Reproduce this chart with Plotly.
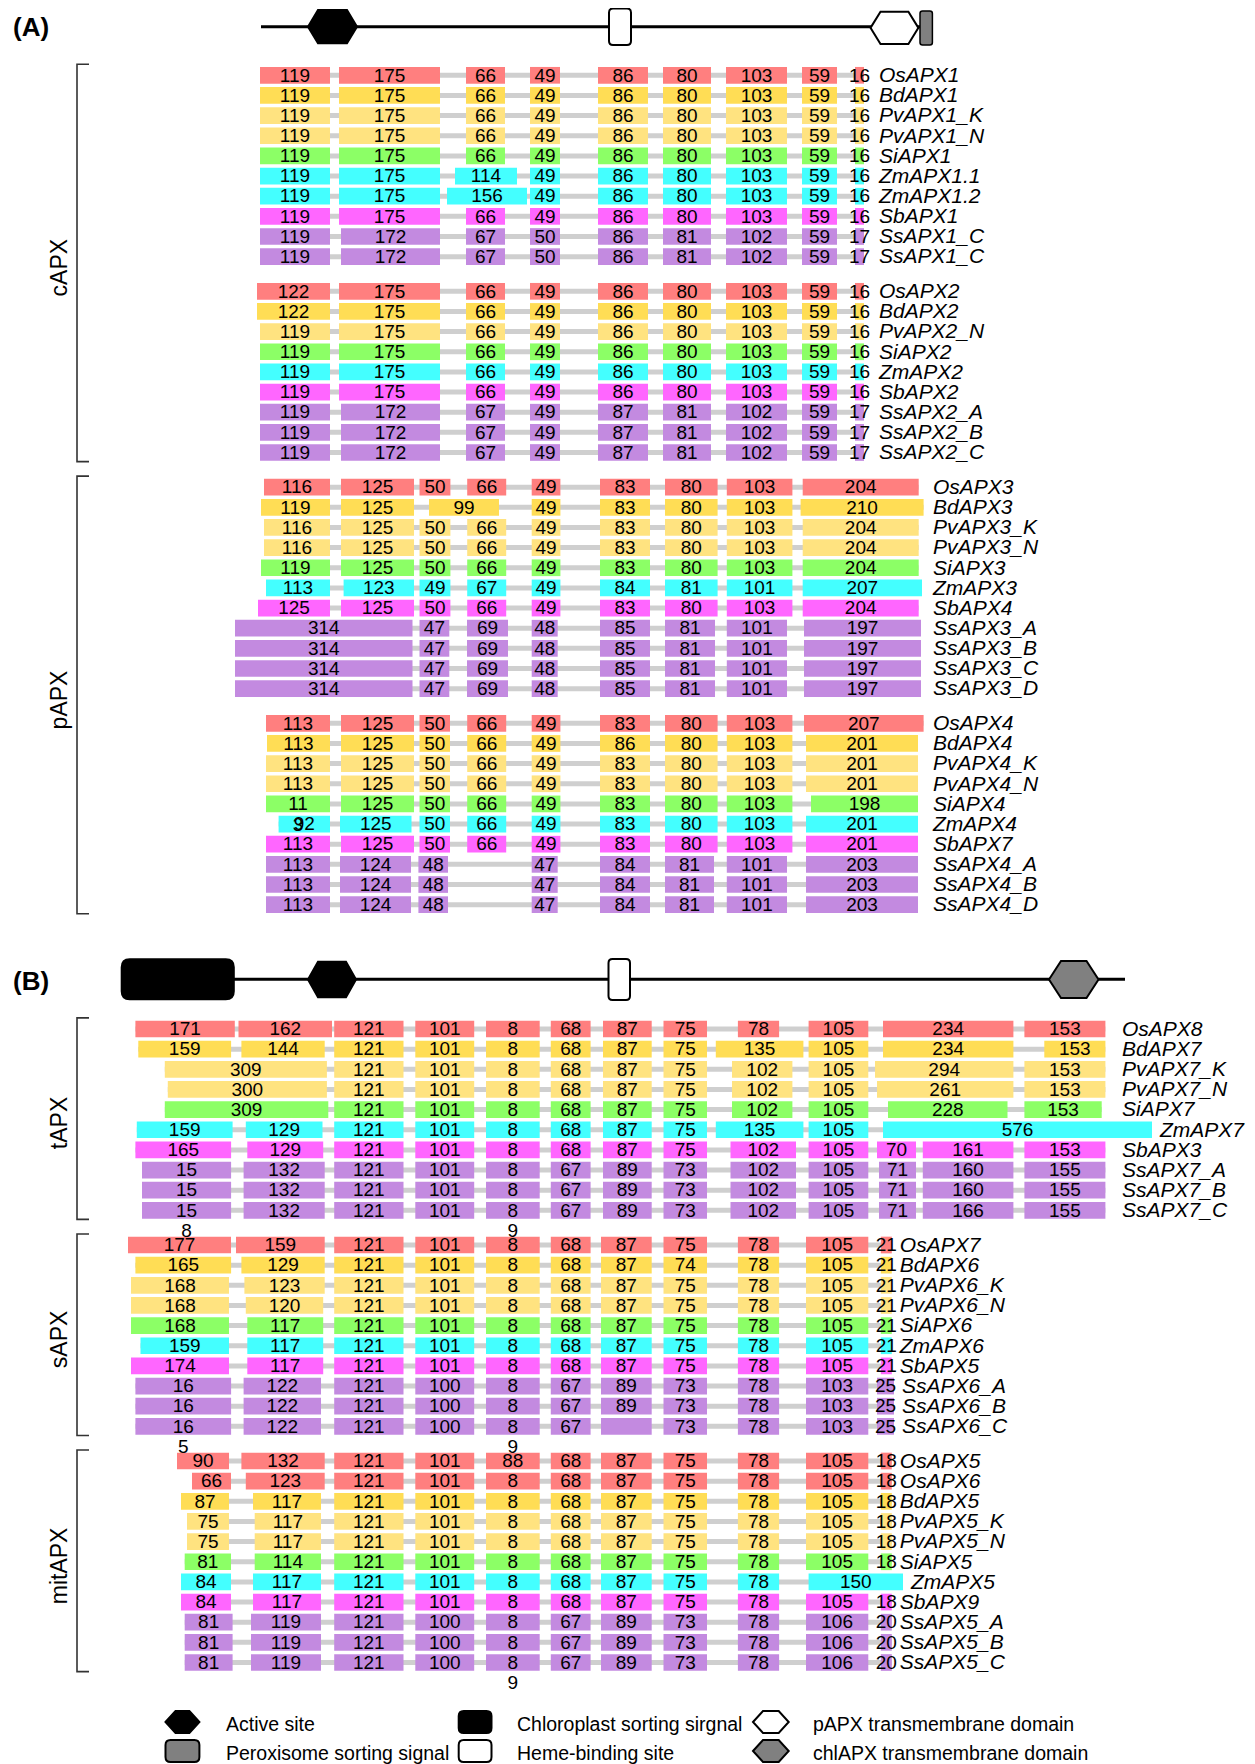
import plotly.graph_objects as go

FONT = "Liberation Sans, Arial, Helvetica, sans-serif"

# ---------------------------------------------------------------- colours
SPECIES_COLOURS = {
    "Os": "#FF7F7F", "Bd": "#FFDD55", "Pv": "#FFE380", "Si": "#8CFF66",
    "Zm": "#44FFFF", "Sb": "#FF66FF", "Ss": "#C38AE0",
}

# ---------------------------------------------------------------- data
# Each block: gene names, exon length labels per aligned exon column (None = absent),
# the aligned exon columns (start, end on the alignment axis) and per-gene span overrides.

A1_GENES = ["OsAPX1", "BdAPX1", "PvAPX1_K", "PvAPX1_N", "SiAPX1", "ZmAPX1.1",
            "ZmAPX1.2", "SbAPX1", "SsAPX1_C", "SsAPX1_C"]
A1_EXONS = [
    [119, 175, 66, 49, 86, 80, 103, 59, 16],
    [119, 175, 66, 49, 86, 80, 103, 59, 16],
    [119, 175, 66, 49, 86, 80, 103, 59, 16],
    [119, 175, 66, 49, 86, 80, 103, 59, 16],
    [119, 175, 66, 49, 86, 80, 103, 59, 16],
    [119, 175, 114, 49, 86, 80, 103, 59, 16],
    [119, 175, 156, 49, 86, 80, 103, 59, 16],
    [119, 175, 66, 49, 86, 80, 103, 59, 16],
    [119, 172, 67, 50, 86, 81, 102, 59, 17],
    [119, 172, 67, 50, 86, 81, 102, 59, 17],
]
A1_COLS = [(260, 330), (339, 440), (466, 505), (530, 560), (598, 648),
           (663, 711), (726, 787), (802, 837), (855, 864)]
A1_SPANS = {(5, 2): (455, 517), (6, 2): (447, 527), (8, 1): (341, 440), (9, 1): (341, 440)}

A2_GENES = ["OsAPX2", "BdAPX2", "PvAPX2_N", "SiAPX2", "ZmAPX2", "SbAPX2",
            "SsAPX2_A", "SsAPX2_B", "SsAPX2_C"]
A2_EXONS = [
    [122, 175, 66, 49, 86, 80, 103, 59, 16],
    [122, 175, 66, 49, 86, 80, 103, 59, 16],
    [119, 175, 66, 49, 86, 80, 103, 59, 16],
    [119, 175, 66, 49, 86, 80, 103, 59, 16],
    [119, 175, 66, 49, 86, 80, 103, 59, 16],
    [119, 175, 66, 49, 86, 80, 103, 59, 16],
    [119, 172, 67, 49, 87, 81, 102, 59, 17],
    [119, 172, 67, 49, 87, 81, 102, 59, 17],
    [119, 172, 67, 49, 87, 81, 102, 59, 17],
]
A2_COLS = A1_COLS
A2_SPANS = {(0, 0): (257, 330), (1, 0): (257, 330),
            (6, 1): (341, 440), (7, 1): (341, 440), (8, 1): (341, 440)}

A3_GENES = ["OsAPX3", "BdAPX3", "PvAPX3_K", "PvAPX3_N", "SiAPX3", "ZmAPX3",
            "SbAPX4", "SsAPX3_A", "SsAPX3_B", "SsAPX3_C", "SsAPX3_D"]
A3_EXONS = [
    [116, 125, 50, 66, 49, 83, 80, 103, 204],
    [119, 125, 99, None, 49, 83, 80, 103, 210],
    [116, 125, 50, 66, 49, 83, 80, 103, 204],
    [116, 125, 50, 66, 49, 83, 80, 103, 204],
    [119, 125, 50, 66, 49, 83, 80, 103, 204],
    [113, 123, 49, 67, 49, 84, 81, 101, 207],
    [125, 125, 50, 66, 49, 83, 80, 103, 204],
    [314, None, 47, 69, 48, 85, 81, 101, 197],
    [314, None, 47, 69, 48, 85, 81, 101, 197],
    [314, None, 47, 69, 48, 85, 81, 101, 197],
    [314, None, 47, 69, 48, 85, 81, 101, 197],
]
A3_COLS = [(264, 330), (341, 414), (419.5, 450.4), (467.2, 506.2), (531.7, 560.4),
           (600, 650), (665, 717.6), (726.8, 792.4), (802.7, 918.7)]
A3_SPANS = {(1, 0): (261, 330), (1, 2): (429, 499), (1, 8): (800.6, 923.6),
            (4, 0): (261, 330),
            (5, 0): (266, 330), (5, 1): (343.6, 414), (5, 8): (802.7, 922),
            (6, 0): (258, 330)}
for _r in range(7, 11):
    A3_SPANS.update({(_r, 0): (235, 412.5), (_r, 2): (419.5, 449.3), (_r, 3): (467, 508),
                     (_r, 4): (531.7, 557.7), (_r, 6): (665, 715), (_r, 7): (726.8, 787),
                     (_r, 8): (804, 921)})

A4_GENES = ["OsAPX4", "BdAPX4", "PvAPX4_K", "PvAPX4_N", "SiAPX4", "ZmAPX4",
            "SbAPX7", "SsAPX4_A", "SsAPX4_B", "SsAPX4_D"]
A4_EXONS = [
    [113, 125, 50, 66, 49, 83, 80, 103, 207],
    [113, 125, 50, 66, 49, 86, 80, 103, 201],
    [113, 125, 50, 66, 49, 83, 80, 103, 201],
    [113, 125, 50, 66, 49, 83, 80, 103, 201],
    ["11", 125, 50, 66, 49, 83, 80, 103, 198],
    ["92", 125, 50, 66, 49, 83, 80, 103, 201],
    [113, 125, 50, 66, 49, 83, 80, 103, 201],
    [113, 124, 48, None, 47, 84, 81, 101, 203],
    [113, 124, 48, None, 47, 84, 81, 101, 203],
    [113, 124, 48, None, 47, 84, 81, 101, 203],
]
A4_COLS = [(266, 330), (341, 414), (419.5, 450), (467.2, 506.2), (531.7, 560.4),
           (600, 650), (665, 717.6), (726.8, 792.4), (804, 923.6)]
A4_SPANS = {(1, 0): (267, 330), (1, 8): (806, 918), (2, 8): (806, 918), (3, 8): (806, 918),
            (4, 8): (811, 918),
            (5, 0): (278.6, 330), (5, 1): (340, 411.5), (5, 8): (806, 918),
            (6, 8): (806, 918)}
for _r in range(7, 10):
    A4_SPANS.update({(_r, 1): (340, 411), (_r, 2): (418.4, 448), (_r, 4): (531.7, 557.7),
                     (_r, 6): (665, 714), (_r, 7): (726.8, 787), (_r, 8): (806, 918)})

B1_GENES = ["OsAPX8", "BdAPX7", "PvAPX7_K", "PvAPX7_N", "SiAPX7", "ZmAPX7",
            "SbAPX3", "SsAPX7_A", "SsAPX7_B", "SsAPX7_C"]
B1_EXONS = [
    [171, 162, 121, 101, 8, 68, 87, 75, 78, 105, None, 234, 153],
    [159, 144, 121, 101, 8, 68, 87, 75, 135, 105, None, 234, 153],
    [309, None, 121, 101, 8, 68, 87, 75, 102, 105, None, 294, 153],
    [300, None, 121, 101, 8, 68, 87, 75, 102, 105, None, 261, 153],
    [309, None, 121, 101, 8, 68, 87, 75, 102, 105, None, 228, 153],
    [159, 129, 121, 101, 8, 68, 87, 75, 135, 105, None, 576, None],
    [165, 129, 121, 101, 8, 68, 87, 75, 102, 105, 70, 161, 153],
    ["15", 132, 121, 101, 8, 67, 89, 73, 102, 105, 71, 160, 155],
    ["15", 132, 121, 101, 8, 67, 89, 73, 102, 105, 71, 160, 155],
    ["15", 132, 121, 101, 8, 67, 89, 73, 102, 105, 71, 166, 155],
]
B1_COLS = [(135.4, 234.8), (238.5, 332), (334.2, 403.5), (415.3, 474.2), (486, 539.7),
           (550.8, 590.6), (603, 651.7), (663.5, 707), (737.9, 779.1), (808.6, 868.3),
           (877, 916), (883, 1013.4), (1024.4, 1105.4)]
B1_SPANS = {(1, 0): (138.3, 231.1), (1, 1): (241.4, 324.7), (1, 8): (715.8, 803.4),
            (1, 12): (1044.3, 1105.4),
            (2, 0): (164.8, 326.9), (2, 8): (732, 792.4), (2, 11): (875, 1013.4),
            (3, 0): (167.8, 326.9), (3, 8): (732, 792.4), (3, 11): (877, 1013.4),
            (4, 0): (164.8, 328.3), (4, 8): (732, 792.4), (4, 11): (888, 1007.5),
            (4, 12): (1024.4, 1101.7),
            (5, 0): (136.8, 232.6), (5, 1): (245.8, 322.5), (5, 8): (715.8, 803.4),
            (5, 11): (883, 1152),
            (6, 0): (135.4, 231.1), (6, 1): (247.3, 323.2), (6, 8): (730.5, 796),
            (6, 11): (922.8, 1013.4)}
for _r in range(7, 10):
    B1_SPANS.update({(_r, 0): (142, 231.1), (_r, 1): (243.6, 324.7), (_r, 8): (730.5, 796),
                     (_r, 10): (879, 916), (_r, 11): (922.8, 1013.4)})

B2_GENES = ["OsAPX7", "BdAPX6", "PvAPX6_K", "PvAPX6_N", "SiAPX6", "ZmAPX6",
            "SbAPX5", "SsAPX6_A", "SsAPX6_B", "SsAPX6_C"]
B2_EXONS = [
    [177, 159, 121, 101, 8, 68, 87, 75, 78, 105, 21],
    [165, 129, 121, 101, 8, 68, 87, 74, 78, 105, 21],
    [168, 123, 121, 101, 8, 68, 87, 75, 78, 105, 21],
    [168, 120, 121, 101, 8, 68, 87, 75, 78, 105, 21],
    [168, 117, 121, 101, 8, 68, 87, 75, 78, 105, 21],
    [159, 117, 121, 101, 8, 68, 87, 75, 78, 105, 21],
    [174, 117, 121, 101, 8, 68, 87, 75, 78, 105, 21],
    ["16", 122, 121, 100, 8, 67, 89, 73, 78, 103, 25],
    ["16", 122, 121, 100, 8, 67, 89, 73, 78, 103, 25],
    ["16", 122, 121, 100, 8, 67, "", 73, 78, 103, 25],
]
B2_COLS = [(128, 231), (236, 324.7), (334.2, 403.5), (415.3, 474.2), (486, 539.7),
           (550.8, 590.6), (601, 651.7), (663.5, 707), (737.9, 779.1), (806, 868.3),
           (880.8, 891.8)]
B2_SPANS = {(1, 0): (135.4, 231.1), (1, 1): (241.4, 324.7),
            (2, 0): (131, 229), (2, 1): (244.4, 324.7),
            (3, 0): (131, 229), (3, 1): (245.8, 323.2),
            (4, 0): (131, 229), (4, 1): (247.3, 323.2),
            (5, 0): (140.5, 229), (5, 1): (247.3, 323.2),
            (6, 0): (131, 229), (6, 1): (247.3, 323.2)}
for _r in range(7, 10):
    B2_SPANS.update({(_r, 0): (135.4, 231.1), (_r, 1): (243.6, 321), (_r, 10): (877, 894)})

B3_GENES = ["OsAPX5", "OsAPX6", "BdAPX5", "PvAPX5_K", "PvAPX5_N", "SiAPX5",
            "ZmAPX5", "SbAPX9", "SsAPX5_A", "SsAPX5_B", "SsAPX5_C"]
B3_EXONS = [
    [90, 132, 121, 101, 88, 68, 87, 75, 78, 105, 18],
    [66, 123, 121, 101, 8, 68, 87, 75, 78, 105, 18],
    [87, 117, 121, 101, 8, 68, 87, 75, 78, 105, 18],
    [75, 117, 121, 101, 8, 68, 87, 75, 78, 105, 18],
    [75, 117, 121, 101, 8, 68, 87, 75, 78, 105, 18],
    [81, 114, 121, 101, 8, 68, 87, 75, 78, 105, 18],
    [84, 117, 121, 101, 8, 68, 87, 75, 78, 150, None],
    [84, 117, 121, 101, 8, 68, 87, 75, 78, 105, 18],
    [81, 119, 121, 100, 8, 67, 89, 73, 78, 106, 20],
    [81, 119, 121, 100, 8, 67, 89, 73, 78, 106, 20],
    [81, 119, 121, 100, 8, 67, 89, 73, 78, 106, 20],
]
B3_COLS = [(177, 229), (241.4, 324.7), (334.2, 403.5), (415.3, 474.2), (486, 539.7),
           (550.8, 590.6), (601, 651.7), (663.5, 707), (737.9, 779.1), (806, 868.3),
           (880.8, 891.8)]
B3_SPANS = {(1, 0): (192, 231), (1, 1): (245.8, 324.7),
            (2, 0): (181, 229), (2, 1): (253, 321),
            (3, 0): (187, 229), (3, 1): (254.7, 321),
            (4, 0): (187, 229), (4, 1): (254.7, 321),
            (5, 0): (184.7, 231), (5, 1): (254.7, 321),
            (6, 0): (181, 231), (6, 1): (253, 321), (6, 9): (808.6, 903),
            (7, 0): (181, 231), (7, 1): (253, 321)}
for _r in range(8, 11):
    B3_SPANS.update({(_r, 0): (184.7, 232.6), (_r, 1): (251, 321)})

# wrapped fragments of labels that spill below a row in the original figure
OVERFLOW = [("A4", 4, 0, "3"), ("B1", 9, 0, "8"), ("B1", 9, 4, "9"),
            ("B2", 9, 0, "5"), ("B2", 9, 4, "9"), ("B3", 10, 4, "9")]

GROUPS = [("cAPX", ["A1", "A2"]), ("pAPX", ["A3", "A4"]), ("tAPX", ["B1"]),
          ("sAPX", ["B2"]), ("mitAPX", ["B3"])]

LEGEND_ITEMS = ["Active site", "Peroxisome sorting signal", "Chloroplast sorting sirgnal",
                "Heme-binding site", "pAPX transmembrane domain", "chlAPX transmembrane domain"]

BLOCKS = {
    "A1": dict(genes=A1_GENES, exons=A1_EXONS, cols=A1_COLS, spans=A1_SPANS, name_x=879),
    "A2": dict(genes=A2_GENES, exons=A2_EXONS, cols=A2_COLS, spans=A2_SPANS, name_x=879),
    "A3": dict(genes=A3_GENES, exons=A3_EXONS, cols=A3_COLS, spans=A3_SPANS, name_x=933),
    "A4": dict(genes=A4_GENES, exons=A4_EXONS, cols=A4_COLS, spans=A4_SPANS, name_x=933),
    "B1": dict(genes=B1_GENES, exons=B1_EXONS, cols=B1_COLS, spans=B1_SPANS, name_x=1122),
    "B2": dict(genes=B2_GENES, exons=B2_EXONS, cols=B2_COLS, spans=B2_SPANS, name_x=899),
    "B3": dict(genes=B3_GENES, exons=B3_EXONS, cols=B3_COLS, spans=B3_SPANS, name_x=899),
}
ORDER = ["A1", "A2", "A3", "A4", "B1", "B2", "B3"]

# ---------------------------------------------------------------- layout constants
W, H = 1255, 1764
PAGE_OFFSET = 8          # browser body margin: page coordinates = plot coordinates + 8
PITCH = 20.15
BAR_H = 16.7
SUB_GAP = 0.72
PART_START = {"A": 75.3, "B": 1029.0}

row_y = {}
cursor = {}
for key in ORDER:
    part = key[0]
    if part in cursor:
        cursor[part] += SUB_GAP * PITCH
    else:
        cursor[part] = PART_START[part]
    ys = []
    for _ in BLOCKS[key]["genes"]:
        ys.append(cursor[part])
        cursor[part] += PITCH
    row_y[key] = ys

# ---------------------------------------------------------------- build marks
ex_base, ex_len, ex_y, ex_col = [], [], [], []
lab_x, lab_y, lab_t = [], [], []
con_base, con_len, con_y = [], [], []
nm_x, nm_y, nm_t = [], [], []
span_lookup = {}

for key in ORDER:
    b = BLOCKS[key]
    for r, (gene, labels) in enumerate(zip(b["genes"], b["exons"])):
        y = row_y[key][r]
        colour = SPECIES_COLOURS[gene[:2]]
        starts, ends = [], []
        for c, lab in enumerate(labels):
            if lab is None:
                continue
            s, e = b["spans"].get((r, c), b["cols"][c])
            span_lookup[(key, r, c)] = (s, e)
            starts.append(s)
            ends.append(e)
            ex_base.append(s)
            ex_len.append(e - s)
            ex_y.append(y)
            ex_col.append(colour)
            lab_x.append((s + e) / 2)
            lab_y.append(y + 1.5)
            lab_t.append(str(lab))
        con_base.append(min(starts))
        con_len.append(max(ends) - min(starts))
        con_y.append(y)
        nm_x.append(max(b["name_x"], max(ends) + 8))
        nm_y.append(y + 1.5)
        nm_t.append(gene)

ov_x, ov_y, ov_t = [], [], []
for key, r, c, t in OVERFLOW:
    s, e = span_lookup[(key, r, c)]
    ov_x.append((s + e) / 2)
    ov_y.append(row_y[key][r] + 1.1 * PITCH)
    ov_t.append(t)

fig = go.Figure()
fig.add_trace(go.Bar(orientation="h", base=con_base, x=con_len, y=con_y, width=5,
                     marker=dict(color="#CFCFCF", line=dict(width=0)), hoverinfo="skip"))
fig.add_trace(go.Bar(orientation="h", base=ex_base, x=ex_len, y=ex_y, width=BAR_H,
                     marker=dict(color=ex_col, line=dict(width=0)), hoverinfo="skip"))
fig.add_trace(go.Scatter(x=lab_x, y=lab_y, text=lab_t, mode="text", textposition="middle center",
                         textfont=dict(family=FONT, size=19, color="black"), hoverinfo="skip"))
fig.add_trace(go.Scatter(x=ov_x, y=ov_y, text=ov_t, mode="text", textposition="middle center",
                         textfont=dict(family=FONT, size=19, color="black"), hoverinfo="skip"))
fig.add_trace(go.Scatter(x=nm_x, y=nm_y, text=nm_t, mode="text", textposition="middle right",
                         textfont=dict(family=FONT, size=21, color="black", style="italic"),
                         hoverinfo="skip"))

shapes = []
annotations = []


def rrect(x0, y0, x1, y1, r):
    return (f"M{x0 + r},{y0} L{x1 - r},{y0} Q{x1},{y0} {x1},{y0 + r} L{x1},{y1 - r} "
            f"Q{x1},{y1} {x1 - r},{y1} L{x0 + r},{y1} Q{x0},{y1} {x0},{y1 - r} "
            f"L{x0},{y0 + r} Q{x0},{y0} {x0 + r},{y0} Z")


def hexa(x0, x1, y0, y1, inset):
    ym = (y0 + y1) / 2
    return (f"M{x0},{ym} L{x0 + inset},{y0} L{x1 - inset},{y0} L{x1},{ym} "
            f"L{x1 - inset},{y1} L{x0 + inset},{y1} Z")


def add_path(path, fill, lw=2):
    shapes.append(dict(type="path", path=path, xref="x", yref="y", fillcolor=fill,
                       line=dict(color="black", width=lw), layer="above"))


def add_line(x0, y0, x1, y1, w=3, colour="black"):
    shapes.append(dict(type="line", x0=x0, y0=y0, x1=x1, y1=y1, xref="x", yref="y",
                       line=dict(color=colour, width=w), layer="above"))


# header A
add_line(261, 26.7, 926, 26.7)
add_path(hexa(308, 357, 10, 43.3, 10), "black")
add_path(rrect(609, 8.5, 631, 45, 4), "white")
add_path(hexa(870.5, 918.4, 11.7, 44, 10), "white")
add_path(rrect(920, 11, 932.4, 45, 2.5), "#808080", 1.5)
# header B
add_line(233, 979.3, 1125, 979.3)
add_path(rrect(121.7, 959.3, 233.8, 999.3, 8), "black")
add_path(hexa(308, 356, 961.7, 997.3, 10), "black")
add_path(rrect(608.5, 959, 630, 1000, 4), "white")
add_path(hexa(1049, 1098.5, 961, 998, 12), "#808080")

annotations.append(dict(x=11, y=26.7, xref="x", yref="y", text="<b>(A)</b>", showarrow=False,
                        xanchor="left", yanchor="middle", font=dict(family=FONT, size=26, color="black")))
annotations.append(dict(x=11, y=981, xref="x", yref="y", text="<b>(B)</b>", showarrow=False,
                        xanchor="left", yanchor="middle", font=dict(family=FONT, size=26, color="black")))

# group brackets
for label, keys in GROUPS:
    top = row_y[keys[0]][0] - 0.55 * PITCH
    bot = row_y[keys[-1]][-1] + 0.45 * PITCH
    shapes.append(dict(type="path", path=f"M89,{top} L77,{top} L77,{bot} L89,{bot}",
                       xref="x", yref="y", line=dict(color="#333333", width=1.6), layer="above"))
    annotations.append(dict(x=58.5, y=(top + bot) / 2 + 5, xref="x", yref="y", text=label,
                            showarrow=False, textangle=-90, xanchor="center", yanchor="middle",
                            font=dict(family=FONT, size=23, color="black")))

# legend
LEG_Y = [1722, 1751]
LEG_GLYPH_X = [(165.5, 199.4), (458.7, 491.5), (753, 788.7)]
LEG_TEXT_X = [223.7, 514.7, 810.8]
glyphs = [
    lambda x0, x1, y0, y1: add_path(hexa(x0, x1, y0, y1, 10), "black"),
    lambda x0, x1, y0, y1: add_path(rrect(x0, y0, x1, y1, 5), "#808080"),
    lambda x0, x1, y0, y1: add_path(rrect(x0, y0, x1, y1, 5), "black"),
    lambda x0, x1, y0, y1: add_path(rrect(x0, y0, x1, y1, 5), "white"),
    lambda x0, x1, y0, y1: add_path(hexa(x0, x1, y0, y1, 10), "white"),
    lambda x0, x1, y0, y1: add_path(hexa(x0, x1, y0, y1, 10), "#808080"),
]
for i, text in enumerate(LEGEND_ITEMS):
    col, row = i // 2, i % 2
    x0, x1 = LEG_GLYPH_X[col]
    yc = LEG_Y[row]
    glyphs[i](x0, x1, yc - 11, yc + 11)
    annotations.append(dict(x=LEG_TEXT_X[col], y=yc + 2, xref="x", yref="y", text=text,
                            showarrow=False, xanchor="left", yanchor="middle",
                            font=dict(family=FONT, size=19.5, color="black")))

fig.update_layout(
    width=W, height=H, margin=dict(l=0, r=0, t=0, b=0),
    paper_bgcolor="white", plot_bgcolor="white",
    barmode="overlay", showlegend=False, hovermode=False,
    xaxis=dict(range=[PAGE_OFFSET, W + PAGE_OFFSET], visible=False, fixedrange=True),
    yaxis=dict(range=[H + PAGE_OFFSET, PAGE_OFFSET], visible=False, fixedrange=True),
    shapes=shapes, annotations=annotations,
)

fig.write_html("out.html")
